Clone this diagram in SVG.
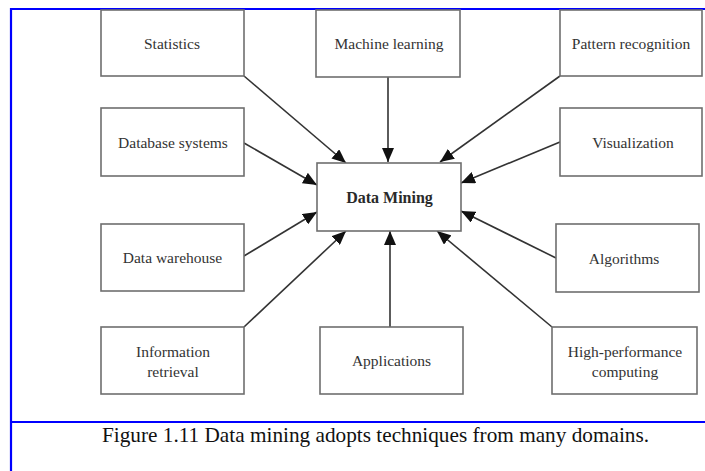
<svg xmlns="http://www.w3.org/2000/svg" width="705" height="471" viewBox="0 0 705 471">
  <defs>
    <style>
      .box { fill: #ffffff; stroke: #6e6e6e; stroke-width: 1.6; }
      .lbl { font-family: "Liberation Serif", "Times New Roman", serif; font-size: 15.5px; fill: #333333; text-anchor: middle; dominant-baseline: central; }
      .main { font-family: "Liberation Serif", "Times New Roman", serif; font-size: 16px; font-weight: bold; fill: #2a2a2a; text-anchor: middle; dominant-baseline: central; }
      .conn { stroke: #333333; stroke-width: 1.6; fill: none; marker-end: url(#arrow); }
      .frame { stroke: #0000ff; stroke-width: 2.2; fill: none; }
      .caption { font-family: "Liberation Serif", "Times New Roman", serif; font-size: 21px; fill: #111111; }
    </style>
    <marker id="arrow" markerUnits="userSpaceOnUse" markerWidth="15" markerHeight="12" refX="14" refY="6" orient="auto">
      <path d="M0,0 L14,6 L0,12 z" fill="#111111"/>
    </marker>
  </defs>
  <rect x="0" y="0" width="705" height="471" fill="#ffffff"/>

  <g id="frame">
    <line class="frame" x1="11" y1="9" x2="705" y2="9"/>
    <line class="frame" x1="11" y1="8" x2="11" y2="471"/>
    <line class="frame" x1="11" y1="422" x2="705" y2="422"/>
  </g>

  <g id="connectors">
    <line class="conn" x1="244" y1="76" x2="346" y2="163"/>
    <line class="conn" x1="388" y1="77" x2="388" y2="162"/>
    <line class="conn" x1="560" y1="76" x2="440" y2="162"/>
    <line class="conn" x1="244" y1="143" x2="317" y2="185"/>
    <line class="conn" x1="560" y1="142" x2="461" y2="183"/>
    <line class="conn" x1="244" y1="256" x2="317" y2="212"/>
    <line class="conn" x1="556" y1="258" x2="461" y2="211"/>
    <line class="conn" x1="244" y1="327" x2="346" y2="231"/>
    <line class="conn" x1="390" y1="327" x2="390" y2="231"/>
    <line class="conn" x1="552" y1="327" x2="437" y2="231"/>
  </g>

  <g id="statistics">
    <rect class="box" x="101" y="10" width="143" height="66"/>
    <text class="lbl" x="172" y="43">Statistics</text>
  </g>
  <g id="machine-learning">
    <rect class="box" x="316" y="10" width="144" height="67"/>
    <text class="lbl" x="389" y="43">Machine learning</text>
  </g>
  <g id="pattern-recognition">
    <rect class="box" x="560" y="10" width="142" height="66"/>
    <text class="lbl" x="631" y="43">Pattern recognition</text>
  </g>
  <g id="database-systems">
    <rect class="box" x="101" y="108" width="143" height="68"/>
    <text class="lbl" x="173" y="142">Database systems</text>
  </g>
  <g id="data-mining">
    <rect class="box" x="317" y="163" width="144" height="68"/>
    <text class="main" x="389.5" y="197">Data Mining</text>
  </g>
  <g id="visualization">
    <rect class="box" x="560" y="108" width="142" height="68"/>
    <text class="lbl" x="633" y="142">Visualization</text>
  </g>
  <g id="data-warehouse">
    <rect class="box" x="101" y="224" width="143" height="67"/>
    <text class="lbl" x="172.5" y="257.5">Data warehouse</text>
  </g>
  <g id="algorithms">
    <rect class="box" x="556" y="224" width="143" height="68"/>
    <text class="lbl" x="624" y="258">Algorithms</text>
  </g>
  <g id="information-retrieval">
    <rect class="box" x="101" y="327" width="143" height="67"/>
    <text class="lbl" x="173" y="351">Information</text>
    <text class="lbl" x="173" y="371">retrieval</text>
  </g>
  <g id="applications">
    <rect class="box" x="320" y="327" width="143" height="67"/>
    <text class="lbl" x="391.5" y="360">Applications</text>
  </g>
  <g id="high-performance-computing">
    <rect class="box" x="552" y="327" width="145" height="67"/>
    <text class="lbl" x="625" y="351">High-performance</text>
    <text class="lbl" x="625" y="371">computing</text>
  </g>

  <text class="caption" x="102" y="442" textLength="547" lengthAdjust="spacingAndGlyphs">Figure 1.11 Data mining adopts techniques from many domains.</text>
</svg>
